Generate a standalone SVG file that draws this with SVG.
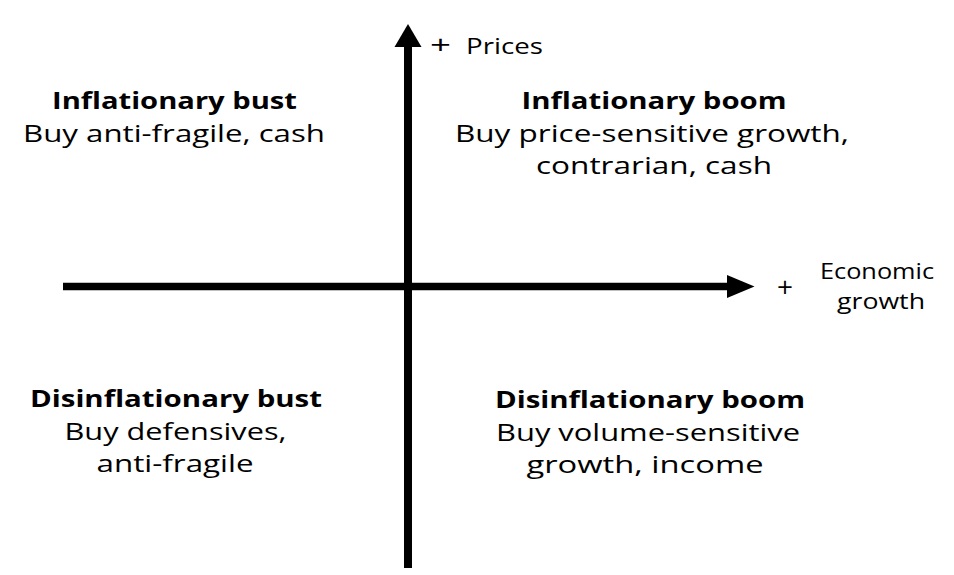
<svg xmlns="http://www.w3.org/2000/svg" width="954" height="575" viewBox="0 0 954 575">
<style>
.t{font-family:"Open Sans","Noto Sans","Liberation Sans",sans-serif;font-size:24px;fill:#000;text-anchor:middle}
.b{font-weight:bold}
.ax{font-family:"Open Sans","Noto Sans","Liberation Sans",sans-serif;font-size:22px;fill:#000;text-anchor:middle}
.axis{stroke:#000;stroke-width:8;fill:none}
</style>
<rect width="954" height="575" fill="#fff"/>
<g id="connectors">
<line class="axis" x1="408" y1="568" x2="408" y2="44"/>
<polygon points="394.5,47 408,24 421.5,47" fill="#000"/>
<line class="axis" x1="63" y1="286.5" x2="729" y2="286.5" style="stroke-width:7.5"/>
<polygon points="727,275 754.5,286.5 727,298" fill="#000"/>
</g>
<g id="axis-prices">
<text class="ax" x="440.5" y="54" textLength="21" lengthAdjust="spacingAndGlyphs" style="font-size:26px">+</text>
<text class="ax" x="504.5" y="54" textLength="77" lengthAdjust="spacingAndGlyphs" style="font-size:21px">Prices</text>
</g>
<g id="axis-growth">
<text class="ax" x="785" y="297" textLength="16" lengthAdjust="spacingAndGlyphs" style="font-size:27px">+</text>
<text class="ax" x="877" y="279" textLength="114" lengthAdjust="spacingAndGlyphs">Economic</text>
<text class="ax" x="881" y="309" textLength="88" lengthAdjust="spacingAndGlyphs">growth</text>
</g>
<g id="inflationary-bust">
<text class="t b" x="174.5" y="108.5" textLength="245" lengthAdjust="spacingAndGlyphs">Inflationary bust</text>
<text class="t" x="174" y="141.5" textLength="302" lengthAdjust="spacingAndGlyphs">Buy anti-fragile, cash</text>
</g>
<g id="inflationary-boom">
<text class="t b" x="654" y="108.5" textLength="265" lengthAdjust="spacingAndGlyphs">Inflationary boom</text>
<text class="t" x="652" y="141.5" textLength="394" lengthAdjust="spacingAndGlyphs">Buy price-sensitive growth,</text>
<text class="t" x="654" y="174.3" textLength="236" lengthAdjust="spacingAndGlyphs">contrarian, cash</text>
</g>
<g id="disinflationary-bust">
<text class="t b" x="176" y="407" textLength="292" lengthAdjust="spacingAndGlyphs">Disinflationary bust</text>
<text class="t" x="175.5" y="440" textLength="222" lengthAdjust="spacingAndGlyphs">Buy defensives,</text>
<text class="t" x="175" y="472" textLength="157" lengthAdjust="spacingAndGlyphs">anti-fragile</text>
</g>
<g id="disinflationary-boom">
<text class="t b" x="650" y="408" textLength="310" lengthAdjust="spacingAndGlyphs">Disinflationary boom</text>
<text class="t" x="648" y="441" textLength="304" lengthAdjust="spacingAndGlyphs">Buy volume-sensitive</text>
<text class="t" x="645" y="473" textLength="237" lengthAdjust="spacingAndGlyphs">growth, income</text>
</g>
</svg>
